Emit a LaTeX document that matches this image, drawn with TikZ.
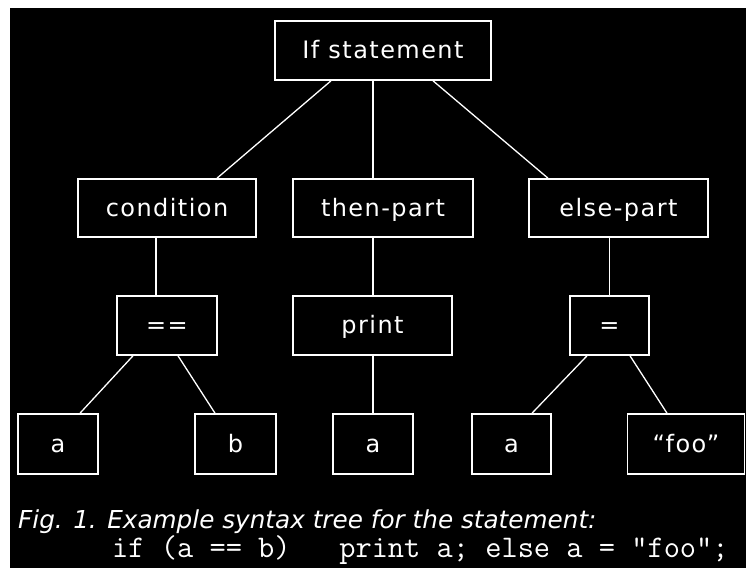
\documentclass[tikz,border=0pt]{standalone}
\usepackage{fontspec}
\newfontfamily\boxfont{DejaVu Sans}[LetterSpace=6]
\newfontfamily\capfont{DejaVu Sans}
\begin{document}
\begin{tikzpicture}[x=1pt,y=-1pt,
  box/.style={draw=white, line width=1.6pt, text=white, inner sep=0pt,
    text height=21pt, text depth=5pt,
    font=\boxfont\fontsize{24}{28}\selectfont},
  edge/.style={draw=white, line width=1.3pt},
  captext/.style={text=white, inner sep=0pt, anchor=base west}]
\fill[white] (0,0) rectangle (746,568);
\fill[black] (10,8) rectangle (746,568);
\useasboundingbox (0,0) rectangle (746,568);

\node[box, minimum width=216pt, minimum height=59pt] (ifs) at (383,50.5) {If statement};
\node[box, minimum width=178pt, minimum height=58pt] (cond) at (167,208) {condition};
\node[box, minimum width=180pt, minimum height=58pt] (then) at (383,208) {then-part};
\node[box, minimum width=179pt, minimum height=58pt] (else) at (618.5,208) {else-part};
\node[box, minimum width=100pt, minimum height=59pt] (eq) at (167,325.5) {==};
\node[box, minimum width=159pt, minimum height=59pt] (print) at (372.5,325.5) {print};
\node[box, minimum width=79pt, minimum height=59pt] (assign) at (609.5,325.5) {=};
\node[box, minimum width=80pt, minimum height=60pt] (a1) at (58,444) {a};
\node[box, minimum width=81pt, minimum height=60pt] (b) at (235.5,444) {b};
\node[box, minimum width=80pt, minimum height=60pt] (a2) at (373,444) {a};
\node[box, minimum width=79pt, minimum height=60pt] (a3) at (511.5,444) {a};
\node[box, minimum width=117pt, minimum height=60pt] (foo) at (686,444) {“foo”};

\draw[edge] ([xshift=-52pt]ifs.south) -- ([xshift=50pt]cond.north);
\draw[edge] ([xshift=-10pt]ifs.south) -- ([xshift=-10pt]then.north);
\draw[edge] ([xshift=50pt]ifs.south) -- ([xshift=-70.5pt]else.north);
\draw[edge] ([xshift=-11pt]cond.south) -- ([xshift=-11pt]eq.north);
\draw[edge] ([xshift=-10pt]then.south) -- ([xshift=0.5pt]print.north);
\draw[edge] ([xshift=-9pt]else.south) -- (assign.north);
\draw[edge] ([xshift=-34pt]eq.south) -- ([xshift=22pt]a1.north);
\draw[edge] ([xshift=11pt]eq.south) -- ([xshift=-20.5pt]b.north);
\draw[edge] ([xshift=0.5pt]print.south) -- (a2.north);
\draw[edge] ([xshift=-22.5pt]assign.south) -- ([xshift=20.5pt]a3.north);
\draw[edge] ([xshift=20.5pt]assign.south) -- ([xshift=-19pt]foo.north);

\node[captext, font=\capfont\itshape\fontsize{24.7}{28}\selectfont] (cap1) at (18,528)
  {Fig. 1. Example syntax tree for the statement:};
\node[captext, font=\ttfamily\fontsize{31.5}{34}\selectfont] (cap2) at (112,557)
  {if (a == b)\ \ \ print a; else a = “foo”;};
\end{tikzpicture}
\end{document}
